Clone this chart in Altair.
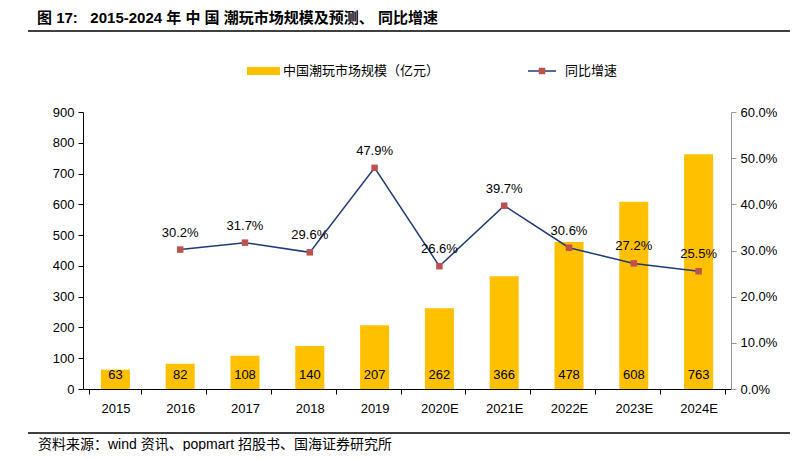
import altair as alt
import pandas as pd

years = ["2015", "2016", "2017", "2018", "2019", "2020E", "2021E", "2022E", "2023E", "2024E"]
market = [63, 82, 108, 140, 207, 262, 366, 478, 608, 763]
growth = [None, 30.2, 31.7, 29.6, 47.9, 26.6, 39.7, 30.6, 27.2, 25.5]

title_text = "图\u00a017:\u00a0\u00a0\u00a02015-2024\u00a0年\u00a0中\u00a0国\u00a0潮玩市场规模及预测、\u00a0同比增速"
source_text = "资料来源：wind\u00a0资讯、popmart\u00a0招股书、国海证券研究所"
bar_name = "中国潮玩市场规模（亿元）"
line_name = "同比增速"

FONT = "Liberation Sans, Arial, Noto Sans CJK SC"

df = pd.DataFrame({"year": years, "market": market,
                   "growth": [g / 100 if g is not None else None for g in growth]})
dfl = df.dropna(subset=["growth"])

W, H = 648, 277

xenc = alt.X("year:N", sort=years, title=None,
             axis=alt.Axis(labelAngle=0, tickBand="extent", domainColor="#000", tickColor="#000",
                           tickSize=5, labelPadding=8, labelFontSize=13, labelColor="#000",
                           labelFont=FONT))

bars = alt.Chart(df).mark_bar(color="#FFC000", size=29).encode(
    x=xenc,
    y=alt.Y("market:Q", title=None, scale=alt.Scale(domain=[0, 900], nice=False),
            axis=alt.Axis(values=list(range(0, 901, 100)), grid=False, domainColor="#000",
                          tickColor="#000", tickSize=5, labelPadding=4, labelFontSize=13,
                          labelColor="#000", labelFont=FONT)),
)
bar_labels = alt.Chart(df).mark_text(y=263, fontSize=13, font=FONT, color="#000", baseline="middle").encode(
    x=alt.X("year:N", sort=years),
    text=alt.Text("market:Q"),
)
bar_layer = alt.layer(bars, bar_labels)

yg = alt.Y("growth:Q", title=None, scale=alt.Scale(domain=[0, 0.6], nice=False),
           axis=alt.Axis(orient="right", values=[0, 0.1, 0.2, 0.3, 0.4, 0.5, 0.6], format=".1%",
                         grid=False, domainColor="#999", tickColor="#999", tickSize=5,
                         labelPadding=4, labelFontSize=13, labelColor="#000", labelFont=FONT))

line = alt.Chart(dfl).mark_line(color="#1F3A7A", strokeWidth=1.5).encode(
    x=alt.X("year:N", sort=years), y=yg)
pts = alt.Chart(dfl).mark_point(shape="square", filled=True, size=42, color="#C0504D", opacity=1).encode(
    x=alt.X("year:N", sort=years), y=yg)
line_labels = alt.Chart(dfl).mark_text(dy=-17, fontSize=13, font=FONT, color="#000", baseline="middle").encode(
    x=alt.X("year:N", sort=years), y=yg, text=alt.Text("growth:Q", format=".1%"))
line_layer = alt.layer(line, pts, line_labels)

one = pd.DataFrame({"a": [0]})

title = alt.Chart(one).mark_text(align="left", baseline="middle", fontSize=15, fontWeight="bold",
                                 font=FONT, color="#000").encode(
    x=alt.value(-46), y=alt.value(-94), text=alt.value(title_text))
source = alt.Chart(one).mark_text(align="left", baseline="middle", fontSize=14, font=FONT,
                                  color="#000").encode(
    x=alt.value(-45), y=alt.value(333), text=alt.value(source_text))
rule_top = alt.Chart(one).mark_rule(color="#000", strokeWidth=1.5).encode(
    x=alt.value(-55), x2=alt.value(707), y=alt.value(-81))
rule_bot = alt.Chart(one).mark_rule(color="#000", strokeWidth=1.5).encode(
    x=alt.value(-55), x2=alt.value(707), y=alt.value(321))

leg_rect = alt.Chart(one).mark_rect(color="#FFC000").encode(
    x=alt.value(164), x2=alt.value(197), y=alt.value(-45), y2=alt.value(-37))
leg_bar_text = alt.Chart(one).mark_text(align="left", baseline="middle", fontSize=13, font=FONT,
                                        color="#000").encode(
    x=alt.value(200), y=alt.value(-41), text=alt.value(bar_name))
leg_line = alt.Chart(one).mark_rule(color="#1F3A7A", strokeWidth=1.5).encode(
    x=alt.value(445), x2=alt.value(473), y=alt.value(-41))
leg_pt = alt.Chart(one).mark_point(shape="square", filled=True, size=42, color="#C0504D", opacity=1).encode(
    x=alt.value(459), y=alt.value(-41))
leg_line_text = alt.Chart(one).mark_text(align="left", baseline="middle", fontSize=13, font=FONT,
                                         color="#000").encode(
    x=alt.value(482), y=alt.value(-41), text=alt.value(line_name))

main = alt.layer(bar_layer, line_layer).resolve_scale(y="independent")

chart = alt.layer(main, title, source, rule_top, rule_bot, leg_rect, leg_bar_text,
                  leg_line, leg_pt, leg_line_text).properties(
    width=W, height=H,
    autosize=alt.AutoSizeParams(type="none"),
    padding={"left": 75, "top": 104, "right": 60, "bottom": 62},
).configure_view(stroke=None).configure_scale(bandPaddingInner=0.2)

chart.save("out.html", embed_options={"renderer": "svg", "actions": False})
